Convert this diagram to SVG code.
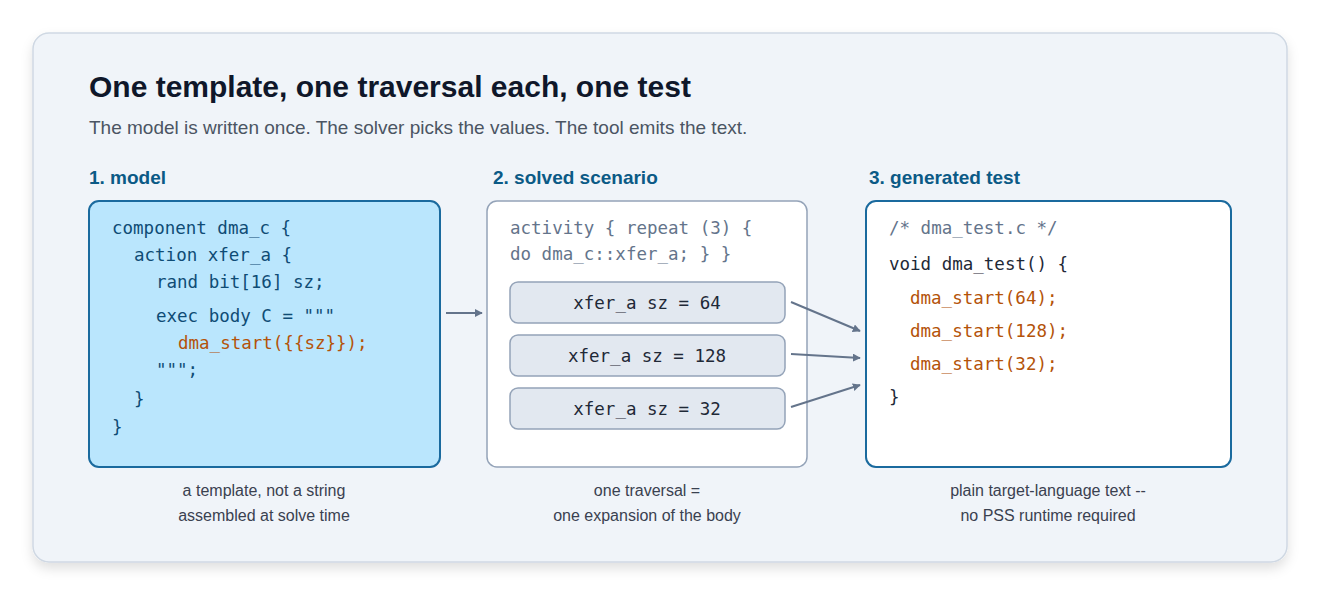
<svg xmlns="http://www.w3.org/2000/svg" width="1320" height="596" viewBox="0 0 1320 596">
<style>
.mono{font-family:"DejaVu Sans Mono",monospace;font-size:17.5px}
.sans{font-family:"Liberation Sans",Arial,sans-serif}
.h{font-family:"Liberation Sans",Arial,sans-serif;font-size:19px;font-weight:bold;fill:#0b5a86}
.cap{font-family:"Liberation Sans",Arial,sans-serif;font-size:16px;fill:#3a4150;text-anchor:middle}
.m{fill:#0f4c75}.o{fill:#b45309}.g{fill:#64748b}.d{fill:#1f2937}
.inner{fill:#e2e8f0;stroke:#94a3b8;stroke-width:1.5}
.conn{stroke:#64748b;stroke-width:2;fill:none;marker-end:url(#a)}
</style>
<defs>
<marker id="a" viewBox="0 0 10 10" refX="9" refY="5" markerWidth="8" markerHeight="8" markerUnits="userSpaceOnUse" orient="auto"><path d="M0,0L10,5L0,10z" fill="#64748b"/></marker>
<filter id="sh" x="-5%" y="-5%" width="110%" height="115%"><feDropShadow dx="0" dy="6" stdDeviation="6" flood-color="#000" flood-opacity="0.12"/></filter>
</defs>
<rect x="33" y="33" width="1254" height="529" rx="16" fill="#f0f4f9" stroke="#cfd8e3" stroke-width="1.5" filter="url(#sh)"/>
<text x="89" y="97" class="sans" font-size="30" font-weight="bold" fill="#0f172a">One template, one traversal each, one test</text>
<text x="89" y="134" class="sans" font-size="19" fill="#4b5563">The model is written once. The solver picks the values. The tool emits the text.</text>
<text x="89" y="184" class="h">1. model</text>
<text x="493" y="184" class="h">2. solved scenario</text>
<text x="869" y="184" class="h">3. generated test</text>
<g id="model">
<rect x="89" y="201" width="351" height="266" rx="10" fill="#bae6fd" stroke="#1a6a9e" stroke-width="2"/>
<text class="mono m" x="112" y="234">component dma_c {</text>
<text class="mono m" x="134" y="261">action xfer_a {</text>
<text class="mono m" x="156" y="288">rand bit[16] sz;</text>
<text class="mono m" x="156" y="322">exec body C = """</text>
<text class="mono o" x="178" y="349">dma_start({{sz}});</text>
<text class="mono m" x="156" y="376">""";</text>
<text class="mono m" x="134" y="405">}</text>
<text class="mono m" x="112" y="433">}</text>
<text class="cap" x="264" y="496">a template, not a string</text>
<text class="cap" x="264" y="521">assembled at solve time</text>
</g>
<g id="scenario">
<rect x="487" y="201" width="320" height="266" rx="10" fill="#fff" stroke="#94a3b8" stroke-width="1.5"/>
<text class="mono g" x="510" y="234">activity { repeat (3) {</text>
<text class="mono g" x="510" y="260">do dma_c::xfer_a; } }</text>
<text class="cap" x="647" y="496">one traversal =</text>
<text class="cap" x="647" y="521">one expansion of the body</text>
</g>
<g id="t1"><rect class="inner" x="510" y="282" width="275" height="41" rx="8"/><text class="mono d" x="647" y="309" text-anchor="middle">xfer_a sz = 64</text></g>
<g id="t2"><rect class="inner" x="510" y="335" width="275" height="41" rx="8"/><text class="mono d" x="647" y="362" text-anchor="middle">xfer_a sz = 128</text></g>
<g id="t3"><rect class="inner" x="510" y="388" width="275" height="41" rx="8"/><text class="mono d" x="647" y="415" text-anchor="middle">xfer_a sz = 32</text></g>
<g id="test">
<rect x="866" y="201" width="365" height="266" rx="10" fill="#fff" stroke="#1a6a9e" stroke-width="2"/>
<text class="mono g" x="889" y="234">/* dma_test.c */</text>
<text class="mono d" x="889" y="270">void dma_test() {</text>
<text class="mono o" x="910" y="304">dma_start(64);</text>
<text class="mono o" x="910" y="337">dma_start(128);</text>
<text class="mono o" x="910" y="370">dma_start(32);</text>
<text class="mono d" x="889" y="403">}</text>
<text class="cap" x="1048" y="496">plain target-language text --</text>
<text class="cap" x="1048" y="521">no PSS runtime required</text>
</g>
<g id="connectors">
<path class="conn" d="M446,313H482"/>
<path class="conn" d="M791,302L860,331"/>
<path class="conn" d="M791,354L860,358"/>
<path class="conn" d="M791,407L860,385"/>
</g>
</svg>
